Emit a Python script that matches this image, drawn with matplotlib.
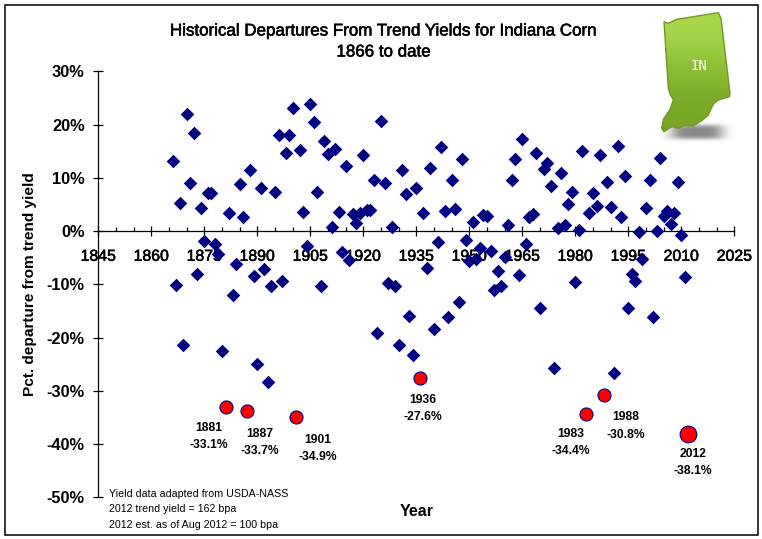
import numpy as np
import matplotlib
matplotlib.use("Agg")
import matplotlib.pyplot as plt
import matplotlib.patheffects as pe
from matplotlib.patches import Polygon, Rectangle
from matplotlib.ticker import MultipleLocator, FuncFormatter

plt.rcParams['font.family'] = ['Liberation Sans', 'DejaVu Sans']

first_year = 1866
departures = [
    13.1, -10.2, 5.2, -21.4, 22.0, 9.1, 18.5, -8.0, 4.3, -1.9, 7.1, 7.2, -2.5, -4.3,
    -22.6, -33.1, 3.4, -12.0, -6.2, 8.8, 2.6, -33.7, 11.4, -8.5, -24.9, 8.0, -7.2,
    -28.3, -10.4, 7.4, 18.0, -9.3, 14.6, 18.1, 23.1, -34.9, 15.3, 3.6, -2.8, 23.9,
    20.5, 7.3, -10.3, 16.9, 14.4, 0.8, 15.5, 3.6, -3.9, 12.3, -5.5, 3.25, 1.5, 3.3,
    14.2, 4.0, 3.9, 9.5, -19.2, 20.7, 9.1, -9.8, 0.8, -10.4, -21.4, 11.4, 6.9, -16.0,
    -23.3, 8.0, -27.6, 3.4, -7.0, 11.8, -18.4, -2.1, 15.8, 3.8, -16.2, 9.5, 4.2, -13.3,
    13.6, -1.6, -5.7, 1.7, -5.3, -3.2, 3.1, 2.9, -3.8, -11.0, -7.5, -10.4, -4.9, 1.2,
    9.5, 13.5, -8.2, 17.3, -2.4, 2.7, 3.25, 14.7, -14.5, 11.7, 12.8, 8.5, -25.8, 0.6,
    10.9, 1.2, 5.1, 7.4, -9.5, 0.2, 15.0, -34.4, 3.4, 7.1, 4.75, 14.2, -30.8, 9.3, 4.5,
    -26.6, 15.9, 2.6, 10.4, -14.5, -8.1, -9.3, -0.2, -5.3, 4.4, 9.6, -16.2, 0.1, 13.8,
    2.9, 3.8, 1.3, 3.4, 9.3, -0.7, -8.7, -38.1,
]
highlight_years = [1881, 1887, 1901, 1936, 1983, 1988]
current_year = 2012
title_lines = ["Historical Departures From Trend Yields for Indiana Corn", "1866 to date"]
footer_lines = ["Yield data adapted from USDA-NASS", "2012 trend yield = 162 bpa",
                "2012 est. as of Aug 2012 = 100 bpa"]

W, H = 762, 539
years = np.arange(first_year, first_year + len(departures))
vals = np.array(departures)
is_red = np.isin(years, highlight_years + [current_year])
heavier = [pe.withStroke(linewidth=0.4, foreground='black')]

fig = plt.figure(figsize=(W / 100, H / 100), dpi=100, facecolor='white')
L, R, T, B = 98.3, 734.3, 71.3, 497.3
ax = fig.add_axes([L / W, 1 - B / H, (R - L) / W, (B - T) / H])
ax.set_xlim(1845, 2025)
ax.set_ylim(-50, 30)
ax.patch.set_alpha(0)
for s in ('top', 'right'):
    ax.spines[s].set_visible(False)
ax.spines['bottom'].set_position(('data', 0))
ax.spines['left'].set_linewidth(0.9)
ax.spines['bottom'].set_linewidth(0.9)
ax.xaxis.set_major_locator(MultipleLocator(15))
ax.xaxis.set_minor_locator(MultipleLocator(5))
ax.yaxis.set_major_locator(MultipleLocator(10))
ax.yaxis.set_major_formatter(FuncFormatter(lambda v, _: f"{v:.0f}%"))
ax.tick_params(axis='x', which='major', direction='inout', length=7.5, width=0.9, labelsize=11.4, pad=9)
ax.tick_params(axis='x', which='minor', direction='in', length=2.6, width=0.9)
ax.tick_params(axis='y', which='major', direction='inout', length=7.5, width=0.9, labelsize=11.8, pad=6)
for t in ax.get_yticklabels():
    t.set_fontweight('bold')
for t in ax.get_xticklabels():
    t.set_path_effects(heavier)

ax.scatter(years[~is_red], vals[~is_red], marker='D', s=48, color='#000080', linewidths=0, zorder=3, clip_on=False)
hy = np.isin(years, highlight_years)
ax.scatter(years[hy], vals[hy], marker='o', s=88, color='#ff0000', edgecolors='#000080', linewidths=0.8, zorder=4)
cy = years == current_year
ax.scatter(years[cy], vals[cy], marker='o', s=145, color='#ff0000', edgecolors='#000080', linewidths=0.8, zorder=4)

# overlay in pixel coordinates
ov = fig.add_axes([0, 0, 1, 1], zorder=5)
ov.set_xlim(0, W)
ov.set_ylim(H, 0)
ov.axis('off')
ov.patch.set_alpha(0)
ov.add_patch(Rectangle((5, 5), 752.5, 530, fill=False, ec='black', lw=1.1))


def px(x, y, s, **kw):
    kw.setdefault('ha', 'center')
    kw.setdefault('va', 'center')
    return ov.text(x, y, s, **kw)


px(383.5, 31, title_lines[0], fontsize=12.2, color='black', path_effects=heavier)
px(383.5, 52, title_lines[1], fontsize=12.2, color='black', path_effects=heavier)
px(417, 512, "Year", fontsize=11.5, fontweight='bold')
px(30, 284.5, "Pct. departure from trend yield", fontsize=11.1, fontweight='bold', rotation=90)
for y, line in zip((494, 509, 525), footer_lines):
    px(109, y, line, fontsize=7.7, ha='left')

label_pos = {1881: (209, 428), 1887: (260, 434), 1901: (318, 440), 1936: (422.7, 400),
             1983: (570.7, 434), 1988: (625.7, 417), 2012: (693.3, 454)}
for yr, (x, y) in label_pos.items():
    v = vals[years == yr][0]
    px(x, y, str(yr), fontsize=8.7, fontweight='bold')
    px(x, y + 17.5, f"{v:.1f}%", fontsize=8.7, fontweight='bold')

# Indiana badge
ox, oy = 640, 0
outline = [(72, 65), (85, 70), (110, 58), (235, 38), (243, 55), (270, 280), (268, 290), (235, 300),
           (222, 310), (215, 322), (205, 345), (185, 362), (160, 378), (135, 376), (115, 385), (95, 380),
           (72, 395), (65, 385), (70, 358), (90, 328), (100, 300), (90, 282), (85, 265)]
outline = [(ox + a / 3, oy + b / 3) for a, b in outline]

sx, sy = np.meshgrid(np.linspace(655, 745, 120), np.linspace(118, 146, 50))
sh = np.exp(-(((sx - 697) / 27) ** 4 + ((sy - 132) / 7.5) ** 4))
rgba = np.zeros(sh.shape + (4,))
rgba[..., :3] = 0.45
rgba[..., 3] = sh * 0.85
ov.imshow(rgba, extent=(655, 745, 146, 118), aspect='auto', zorder=1, interpolation='bilinear')

stops_y = [10, 30, 55, 75, 100, 135]
stops_c = np.array([(171, 214, 78), (168, 212, 74), (150, 200, 62), (136, 186, 50), (122, 170, 40), (118, 162, 36)]) / 255
gy = np.linspace(10, 135, 200)
grad = np.stack([np.interp(gy, stops_y, stops_c[:, i]) for i in range(3)], axis=-1)[:, None, :]
poly = Polygon(outline, closed=True, fc='none', ec='#6f9a24', lw=1.0, zorder=3)
ov.add_patch(poly)
im = ov.imshow(grad, extent=(655, 735, 135, 10), aspect='auto', zorder=2)
im.set_clip_path(poly)
px(ox + 177 / 3, oy + 197 / 3, "IN", fontsize=10, color='white', family='DejaVu Sans Mono', zorder=4)
ov.set_xlim(0, W)
ov.set_ylim(H, 0)

fig.savefig("out.png", dpi=100, facecolor='white')
